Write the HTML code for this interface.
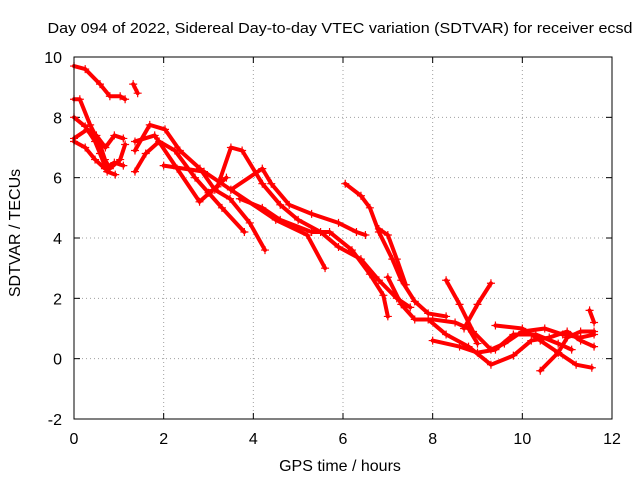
<!DOCTYPE html>
<html><head><meta charset="utf-8"><style>
body{margin:0;background:#fff}
svg{display:block;font-family:"Liberation Sans",sans-serif}
</style></head><body>
<svg id="chart" width="640" height="480">
<rect width="640" height="480" fill="#fff"/>
<text x="340" y="33" font-size="15" text-anchor="middle" textLength="585" lengthAdjust="spacingAndGlyphs">Day 094 of 2022, Sidereal Day-to-day VTEC variation (SDTVAR) for receiver ecsd</text>
<text x="340" y="471" font-size="16" text-anchor="middle">GPS time / hours</text>
<text transform="translate(20,233) rotate(-90)" font-size="16" text-anchor="middle">SDTVAR / TECUs</text>
<g id="grid"></g><g id="ticks"></g><g id="series"></g>
<rect x="74" y="57" width="538" height="362" fill="none" stroke="#000"/>
</svg>
<script>
const xTicks=[0,2,4,6,8,10,12];
const yTicks=[-2,0,2,4,6,8,10];
const track1=[[0,9.7],[0.25,9.6],[0.58,9.1],[0.8,8.7],[1.03,8.7],[1.14,8.6]];
const track1b=[[1.32,9.1],[1.42,8.8]];
const track2=[[0,8.6],[0.13,8.6],[0.36,7.75],[0.58,7.1],[0.69,6.6],[0.8,6.3],[1.03,6.6],[1.14,7.1]];
const track3=[[0,8.0],[0.25,7.7],[0.47,7.2],[0.58,6.8],[0.74,6.2],[0.92,6.1]];
const track4=[[0,7.2],[0.25,7.0],[0.47,6.6],[0.69,6.3],[0.9,6.5],[1.1,6.4]];
const track5=[[0,7.3],[0.3,7.6],[0.5,7.4],[0.7,7.0],[0.9,7.4],[1.1,7.3]];
const track6=[[1.36,6.9],[1.69,7.75],[2.03,7.6],[2.36,6.9],[2.81,6.3],[3.14,5.6],[3.48,5.3],[3.92,4.5],[4.26,3.6]];
const track7=[[1.36,6.2],[1.6,6.8],[1.9,7.2],[2.25,6.9],[2.7,6.0],[3.0,5.5],[3.3,5.0],[3.8,4.2]];
const track8=[[1.36,7.2],[1.8,7.4],[2.3,6.3],[2.8,5.2],[3.1,5.6],[3.4,6.0]];
const track9=[[3.2,5.7],[3.5,7.0],[3.75,6.9],[4.2,5.8],[4.6,5.1],[5.0,4.6],[5.5,4.2],[5.9,3.7],[6.4,3.3],[6.8,2.6],[7.2,2.0],[7.5,1.7]];
const track10=[[3.5,5.6],[4.2,6.3],[4.4,5.8],[4.8,5.1],[5.3,4.8],[5.9,4.5],[6.3,4.2],[6.5,4.1]];
const track11=[[2.0,6.4],[2.9,6.2],[3.5,5.6],[4.5,4.6],[5.2,4.1],[5.6,3.0]];
const track12=[[3.7,5.3],[4.2,5.0],[4.6,4.6],[5.3,4.2],[5.7,4.2],[6.2,3.6],[6.6,2.8],[6.9,2.1],[7.0,1.4]];
const track13=[[6.05,5.8],[6.4,5.4],[6.6,5.0],[6.8,4.2],[7.1,3.3],[7.3,2.6],[7.6,1.9],[7.9,1.5],[8.3,1.4]];
const track14=[[6.8,4.3],[7.0,4.1],[7.2,3.3],[7.4,2.45]];
const track15=[[7.0,2.7],[7.3,1.8],[7.6,1.3],[8.0,1.3],[8.5,1.2],[8.8,1.0],[9.0,0.5]];
const track16=[[8.3,2.6],[8.6,1.8],[8.9,0.9],[9.3,0.3],[9.6,0.5],[10.0,0.9],[10.5,1.0],[10.9,0.8],[11.3,0.7],[11.6,0.8]];
const track17=[[8.7,1.0],[9.0,1.8],[9.3,2.5]];
const track18=[[7.9,1.3],[8.3,0.8],[8.8,0.4],[9.3,-0.2],[9.8,0.1],[10.2,0.6],[10.6,0.7],[11.0,0.9],[11.3,0.6],[11.6,0.4]];
const track19=[[8.0,0.6],[8.6,0.4],[9.0,0.2],[9.4,0.3],[9.8,0.8],[10.3,0.8],[10.8,0.5],[11.1,0.3]];
const track20=[[9.4,1.1],[10.0,1.0],[10.4,0.6],[10.8,0.2],[11.2,-0.2],[11.55,-0.3]];
const track21=[[10.4,-0.4],[10.8,0.2],[11.0,0.7],[11.3,0.9],[11.6,0.9]];
const track22=[[11.5,1.6],[11.6,1.2]];
const tracks=[track1,track1b,track2,track3,track4,track5,track6,track7,track8,track9,track10,track11,track12,track13,track14,track15,track16,track17,track18,track19,track20,track21,track22];

const NS='http://www.w3.org/2000/svg';
const X0=74,X1=612,Y0=419,Y1=57;
function xs(t){return X0+(t-0)/(12-0)*(X1-X0);}
function ys(v){return Y0-(v+2)/(12)*(Y0-Y1);}
function mk(tag,attrs,parent){const e=document.createElementNS(NS,tag);for(const k in attrs)e.setAttribute(k,attrs[k]);parent.appendChild(e);return e;}
const grid=document.getElementById('grid'),ticks=document.getElementById('ticks'),series=document.getElementById('series');
xTicks.forEach(t=>{
  const x=xs(t);
  if(t>0&&t<12){const g=mk('line',{x1:x,x2:x,y1:Y0,y2:Y1,stroke:'#a0a0a0','stroke-dasharray':'1,3'},grid);
  
  }
  mk('line',{x1:x,x2:x,y1:Y0,y2:Y0-6,stroke:'#000'},ticks);
  mk('line',{x1:x,x2:x,y1:Y1,y2:Y1+6,stroke:'#000'},ticks);
  const l=mk('text',{x:x,y:444,'font-size':16,'text-anchor':'middle'},ticks);l.textContent=t;
  
  
});
yTicks.forEach(v=>{
  const y=ys(v);
  if(v>-2&&v<10){const g=mk('line',{x1:X0,x2:X1,y1:y,y2:y,stroke:'#a0a0a0','stroke-dasharray':'1,3'},grid);
  
  }
  mk('line',{x1:X0,x2:X0+6,y1:y,y2:y,stroke:'#000'},ticks);
  mk('line',{x1:X1,x2:X1-6,y1:y,y2:y,stroke:'#000'},ticks);
  const l=mk('text',{x:62,y:y+6,'font-size':16,'text-anchor':'end'},ticks);l.textContent=v;
  
  
});
tracks.forEach((tr,i)=>{
  const g=mk('g',{},series);
  
  
  mk('polyline',{points:tr.map(p=>xs(p[0])+','+ys(p[1])).join(' '),fill:'none',stroke:'#ff0000','stroke-width':4,'stroke-linejoin':'round','stroke-linecap':'round'},g);
  tr.forEach(p=>{
    const x=xs(p[0]),y=ys(p[1]);
    const m=mk('path',{d:`M${x-4},${y}H${x+4}M${x},${y-4}V${y+4}`,stroke:'#ff0000','stroke-width':1.2},g);
    
    
  });
});
</script>
</body></html>
